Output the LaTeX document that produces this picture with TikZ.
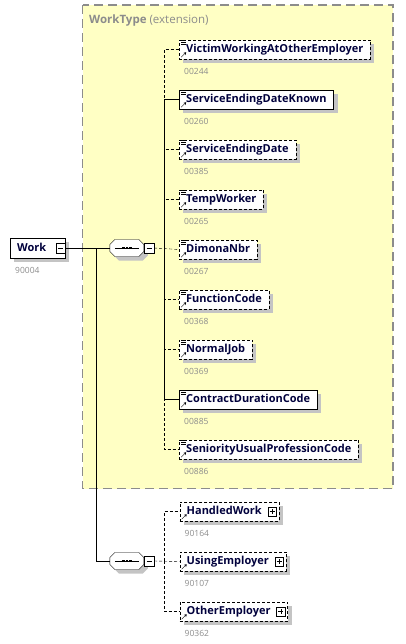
\documentclass[tikz,border=0pt]{standalone}
\usepackage{fontspec}
\setmainfont{Open Sans}
\usetikzlibrary{positioning,shadows,arrows.meta}
\definecolor{typefill}{HTML}{FFFFC4}
\definecolor{typeline}{HTML}{8C8C8C}
\definecolor{ename}{HTML}{00003C}
\definecolor{idgray}{HTML}{8C8C8C}
\definecolor{shadowcol}{HTML}{C4C4C4}
\begin{document}
\begin{tikzpicture}[x=1pt,y=-1pt,
  shade/.style={drop shadow={shadow xshift=4pt,shadow yshift=-4pt,fill=shadowcol,opacity=1}},
  elbox/.style={draw,fill=white,anchor=west,minimum height=19.5pt,inner xsep=7pt,inner ysep=0pt,
    text height=8.5pt,text depth=2.5pt,font=\fontsize{11}{13}\selectfont\bfseries,text=ename,shade},
  ref/.style={elbox,path picture={
    \draw[solid,-{Stealth[length=2.5pt,width=3pt]}] ([shift={(2pt,2pt)}]path picture bounding box.south west) -- ++(5pt,5pt);}},
  simple/.style={elbox,path picture={
    \draw[solid,-{Stealth[length=2.5pt,width=3pt]}] ([shift={(2pt,2pt)}]path picture bounding box.south west) -- ++(5pt,5pt);
    \foreach \d in {0.5,2.5,4.5}
      \draw[solid] ([shift={(2pt,-\d pt)}]path picture bounding box.north west) -- ++(4.5pt,0pt);}},
  opt/.style={dash pattern=on 3pt off 2pt},
  idnum/.style={font=\fontsize{8.5}{10}\selectfont,text=idgray,inner sep=0pt},
  seq/.style={minimum width=34pt,minimum height=17pt,inner sep=0pt},
  minusbox/.style={draw,fill=white,minimum size=9.5pt,inner sep=0pt,path picture={
    \draw ([xshift=-2.5pt]path picture bounding box.center) -- ++(5pt,0pt);}},
  plusbox/.style={minusbox,minimum size=8.5pt,path picture={
    \draw ([xshift=-2.5pt]path picture bounding box.center) -- ++(5pt,0pt);
    \draw ([yshift=2.5pt]path picture bounding box.center) -- ++(0pt,-5pt);}}]
\useasboundingbox (0,0) rectangle (406,644);
\draw[fill=typefill,draw=typeline,line width=1.5pt,dash pattern=on 9pt off 5pt] (82.5,5) rectangle (393,488.5);
\node[anchor=west,inner sep=0pt,font=\fontsize{11.5}{13}\selectfont\bfseries,text=typeline] (typeTitle) at (89,21) {WorkType \textcolor{idgray}{\mdseries(extension)}};

% the element and its two sequences
\node[elbox] (work) at (10,248) {Work\kern12pt};
\node[minusbox,anchor=east] (workMinus) at (work.east) {};
\node[idnum,below right=9pt and 5pt of work.south west] (workId) {90004};
\node[seq] (seqA) at (127,248) {};
\node[seq] (seqB) at (127,561) {};
\foreach \s in {seqA,seqB} {
  \fill[shadowcol] ([shift={(4,4)}]\s.west) ++(0,-3.5) -- ++(5,-5) -- ++(24,0) -- ++(5,5) -- ++(0,7) -- ++(-5,5) -- ++(-24,0) -- ++(-5,-5) -- cycle;
  \draw[fill=white] (\s.west) ++(0,-3.5) -- ++(5,-5) -- ++(24,0) -- ++(5,5) -- ++(0,7) -- ++(-5,5) -- ++(-24,0) -- ++(-5,-5) -- cycle;
  \draw (\s.west) ++(5,0) -- ++(24,0);
  \foreach \d in {-3.5,0,3.5}
    \fill ([xshift=\d pt]\s.center) +(-1.3,-1.3) rectangle +(1.3,1.3);
}
\node[minusbox,right=0pt of seqA] (seqAMinus) {};
\node[minusbox,right=0pt of seqB] (seqBMinus) {};
\coordinate (busA) at (164,248);
\coordinate (busB) at (164,561);
\coordinate (trunk) at (96,248);

\node[simple,opt] (victim) at (179,49.5) {VictimWorkingAtOtherEmployer};
\node[simple] (sedKnown) at (179,99.5) {ServiceEndingDateKnown};
\node[simple,opt] (sedDate) at (179,149.5) {ServiceEndingDate};
\node[simple,opt] (temp) at (179,199.5) {TempWorker};
\node[simple,opt] (dimona) at (179,249.5) {DimonaNbr};
\node[simple,opt] (func) at (179,299.5) {FunctionCode};
\node[simple,opt] (normal) at (179,349.5) {NormalJob};
\node[simple] (duration) at (179,399.5) {ContractDurationCode};
\node[simple,opt] (senior) at (179,449.5) {SeniorityUsualProfessionCode};

\node[idnum,below right=9pt and 5pt of victim.south west] {00244};
\node[idnum,below right=9pt and 5pt of sedKnown.south west] {00260};
\node[idnum,below right=9pt and 5pt of sedDate.south west] {00385};
\node[idnum,below right=9pt and 5pt of temp.south west] {00265};
\node[idnum,below right=9pt and 5pt of dimona.south west] {00267};
\node[idnum,below right=9pt and 5pt of func.south west] {00368};
\node[idnum,below right=9pt and 5pt of normal.south west] {00369};
\node[idnum,below right=9pt and 5pt of duration.south west] {00885};
\node[idnum,below right=9pt and 5pt of senior.south west] {00886};

\node[ref,opt] (handled) at (179.5,511.5) {HandledWork\kern10pt};
\node[ref,opt] (using) at (179.5,561.5) {UsingEmployer\kern10pt};
\node[ref,opt] (other) at (179.5,611.5) {OtherEmployer\kern10pt};
\node[plusbox,left=2.5pt of handled.east] (handledPlus) {};
\node[plusbox,left=2.5pt of using.east] (usingPlus) {};
\node[plusbox,left=2.5pt of other.east] (otherPlus) {};
\node[idnum,below right=9pt and 5pt of handled.south west] {90164};
\node[idnum,below right=9pt and 5pt of using.south west] {90107};
\node[idnum,below right=9pt and 5pt of other.south west] {90362};

% connectors
\draw (workMinus.east) -- (seqA.west);
\draw (trunk) |- (seqB.west);
\draw[opt] (seqAMinus.east) -- (dimona.west);
\draw[opt] (busA) |- (victim.west);
\draw[opt] (busA) |- (sedDate.west);
\draw[opt] (busA) |- (temp.west);
\draw[opt] (busA) |- (func.west);
\draw[opt] (busA) |- (normal.west);
\draw[opt] (busA) |- (senior.west);
\draw (busA) |- (sedKnown.west);
\draw (busA) |- (duration.west);
\draw[opt] (seqBMinus.east) -- (using.west);
\draw[opt] (busB) |- (handled.west);
\draw[opt] (busB) |- (other.west);
\end{tikzpicture}
\end{document}
